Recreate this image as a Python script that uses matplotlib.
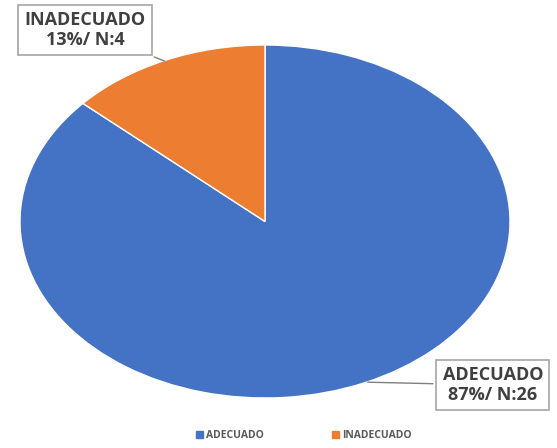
import matplotlib
matplotlib.use("Agg")
import matplotlib.pyplot as plt
import matplotlib.patches as mpatches

# datos
categorias = ["ADECUADO", "INADECUADO"]
n_casos = [26, 4]
colores = ["#4472C4", "#ED7D31"]

total = sum(n_casos)
porcentajes = [round(100 * n / total) for n in n_casos]

plt.rcParams["font.family"] = ["Open Sans", "DejaVu Sans"]

fig = plt.figure(figsize=(5.57, 4.48), dpi=100)
# ejes estirados para que la torta salga elíptica
ax = fig.add_axes([20 / 557, 50 / 448, 490 / 557, 353 / 448])

wedges, _ = ax.pie(n_casos, colors=colores, startangle=90, counterclock=False,
                   wedgeprops=dict(edgecolor="white", linewidth=1.0))
ax.set_aspect("auto")
ax.set_xlim(-1, 1)
ax.set_ylim(-1, 1)
ax.axis("off")

# etiquetas con recuadro y línea guía
pos_texto = {"ADECUADO": (0.93, -0.927), "INADECUADO": (-0.735, 1.085)}
pos_punta = {"ADECUADO": (0.408, -0.91), "INADECUADO": (-0.40, 0.904)}
for cat, n, p in zip(categorias, n_casos, porcentajes):
    ax.annotate(f"{cat}\n{p}%/ N:{n}", xy=pos_punta[cat], xytext=pos_texto[cat],
                ha="center", va="center", fontsize=13, fontweight="bold",
                color="#404040", linespacing=1.15, annotation_clip=False,
                bbox=dict(boxstyle="square,pad=0.35", fc="white", ec="#A6A6A6", lw=1.2),
                arrowprops=dict(arrowstyle="-", color="#7F7F7F", lw=1.0))

# leyenda inferior
handles = [mpatches.Patch(color=c, label=l) for c, l in zip(colores, categorias)]
fig.legend(handles=handles, loc="lower center", bbox_to_anchor=(0.545, -0.005), ncol=2,
           frameon=False, handlelength=0.7, handleheight=0.7,
           handletextpad=0.3, columnspacing=6.5, labelcolor="#595959",
           prop={"weight": "bold", "size": 7.5})

fig.savefig("out.png", dpi=100)
